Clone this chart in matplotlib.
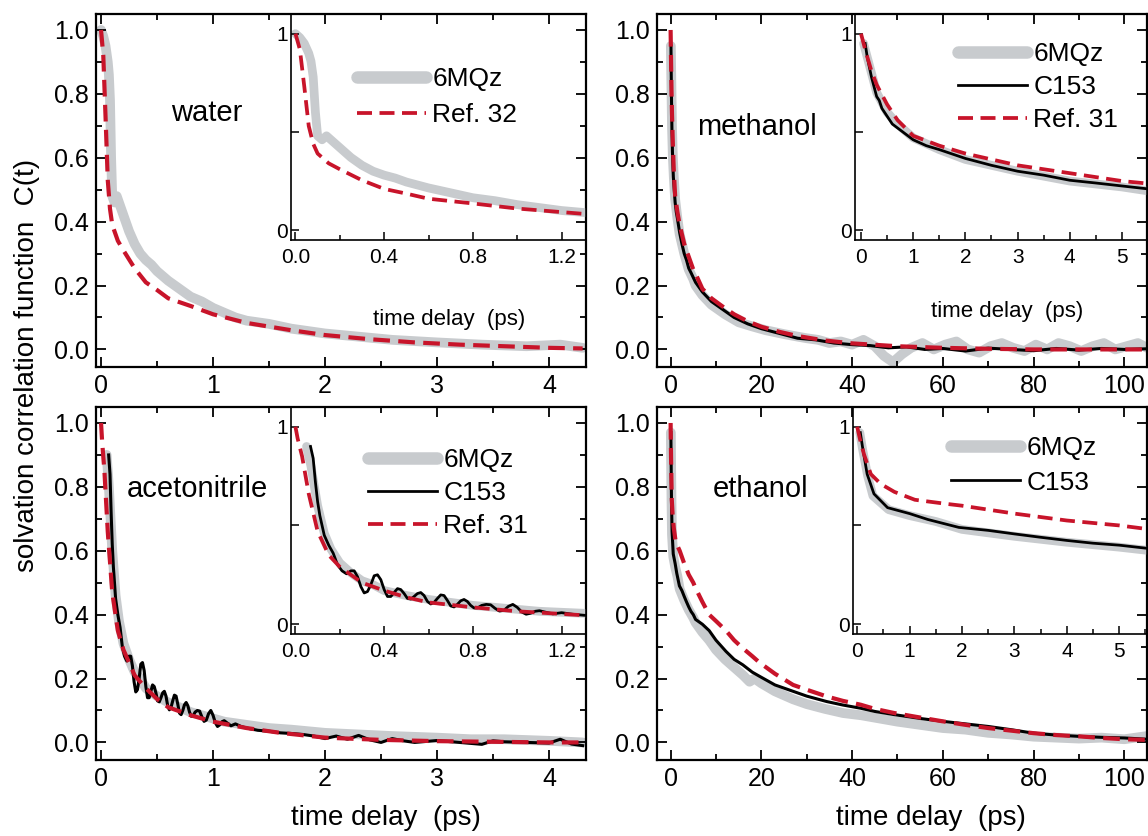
#solvation correlation functions C(t) for four solvents
#main panels plus zoomed insets of the early time range

import numpy as np
import matplotlib.pyplot as plt
from matplotlib.ticker import MultipleLocator, FixedLocator

plt.rcParams['font.family'] = ['Liberation Sans', 'DejaVu Sans']

GRAY = '#c8cbce'
RED = '#c8142a'

#---------------- data ----------------
#water (ps)
water_t_6mqz = [0, 0.02, 0.04, 0.06, 0.07, 0.08, 0.09, 0.1, 0.12, 0.14, 0.17, 0.2, 0.25,
                0.3, 0.35, 0.4, 0.45, 0.5, 0.55, 0.6, 0.7, 0.8, 0.9, 1.0, 1.1, 1.2, 1.3,
                1.5, 1.7, 2.0, 2.3, 2.6, 3.0, 3.4, 3.8, 4.1, 4.3]
water_c_6mqz = [1.0, 0.98, 0.95, 0.9, 0.86, 0.78, 0.6, 0.48, 0.46, 0.48, 0.45, 0.42, 0.37,
                0.33, 0.3, 0.28, 0.265, 0.245, 0.23, 0.215, 0.19, 0.165, 0.15, 0.13, 0.115, 0.1, 0.09,
                0.08, 0.065, 0.05, 0.04, 0.03, 0.022, 0.015, 0.01, 0.015, 0.005]
water_t_ref = [0, 0.02, 0.04, 0.06, 0.08, 0.1, 0.15, 0.2, 0.3, 0.4, 0.5, 0.6, 0.8, 1.0, 1.3,
               1.7, 2.0, 2.4, 2.8, 3.2, 3.6, 4.0, 4.3]
water_c_ref = [1.0, 0.92, 0.73, 0.53, 0.44, 0.39, 0.34, 0.31, 0.254, 0.21, 0.186, 0.16, 0.136,
               0.11, 0.083, 0.06, 0.045, 0.032, 0.022, 0.015, 0.01, 0.005, 0.003]

#methanol (ps)
meoh_t_6mqz = [0.05, 0.1, 0.2, 0.3, 0.5, 0.7, 1.0, 1.5, 2.0, 3.0, 4.0, 5.0, 5.5, 7, 9, 12, 15,
               18, 21, 25, 28, 30, 32.5, 35, 37.5, 40, 42.5, 45, 47, 49, 51, 53, 55.5, 58,
               60.5, 63, 65.5, 68, 70.5, 73, 75.5, 78, 80.5, 83, 85.5, 88, 90.5, 93, 95.5, 98,
               100.5, 103, 105]
meoh_c_6mqz = [0.95, 0.9, 0.8, 0.7, 0.6, 0.54, 0.47, 0.41, 0.36, 0.3, 0.25, 0.22, 0.2, 0.17,
               0.14, 0.11, 0.085, 0.072, 0.06, 0.048, 0.04, 0.035, 0.03, 0.02, 0.025, 0.015,
               0.03, 0.01, -0.02, -0.04, -0.015, 0.005, 0.02, 0.0, 0.015, 0.025, 0.0, -0.01,
               0.01, 0.02, 0.005, -0.005, 0.015, 0.0, 0.02, 0.01, -0.005, 0.01, 0.02, 0.0,
               0.01, 0.02, 0.005]
meoh_t_c153 = [0.08, 0.12, 0.2, 0.3, 0.35, 0.4, 0.5, 0.6, 0.8, 1.0, 1.25, 1.5, 2.0, 2.5, 3.0,
               3.5, 4.0, 4.5, 5.0, 5.5, 7, 9, 11.5, 14, 17, 20, 24, 28, 32, 36, 40, 44, 48, 52,
               56, 60, 65, 70, 75, 80, 85, 90, 95, 100, 105]
meoh_c_c153 = [0.95, 0.88, 0.78, 0.68, 0.66, 0.62, 0.58, 0.54, 0.5, 0.46, 0.43, 0.41, 0.365,
               0.33, 0.3, 0.28, 0.254, 0.24, 0.225, 0.21, 0.18, 0.15, 0.125, 0.1, 0.08, 0.065,
               0.05, 0.035, 0.03, 0.02, 0.015, 0.012, 0.005, 0.008, 0.0, 0.003, -0.005, 0.004,
               0.0, -0.004, 0.003, -0.002, 0.003, 0.0, 0.002]
meoh_t_ref = [0, 0.05, 0.1, 0.2, 0.3, 0.5, 0.7, 1.0, 1.5, 2.0, 2.5, 3.0, 3.5, 4.0, 4.5, 5.0,
              5.5, 7, 9, 11.5, 14, 17, 20, 24, 28, 34, 40, 50, 60, 70, 80, 90, 100, 105]
meoh_c_ref = [1.0, 0.95, 0.9, 0.81, 0.74, 0.64, 0.56, 0.48, 0.43, 0.39, 0.36, 0.33, 0.31, 0.29,
              0.27, 0.25, 0.237, 0.19, 0.16, 0.134, 0.11, 0.088, 0.071, 0.055, 0.042, 0.028,
              0.019, 0.01, 0.005, 0.002, 0.0, 0.0, 0.0, 0.0]

#acetonitrile (ps)
acn_t_6mqz = [0.05, 0.07, 0.1, 0.13, 0.16, 0.2, 0.25, 0.3, 0.35, 0.4, 0.5, 0.6, 0.7, 0.8, 0.9,
              1.0, 1.1, 1.2, 1.3, 1.5, 1.7, 2.0, 2.3, 2.6, 3.0, 3.3, 3.6, 4.0, 4.3]
acn_c_6mqz = [0.9, 0.8, 0.6, 0.46, 0.38, 0.31, 0.26, 0.22, 0.2, 0.17, 0.145, 0.125, 0.11, 0.095,
              0.085, 0.075, 0.065, 0.06, 0.055, 0.045, 0.04, 0.03, 0.025, 0.02, 0.015, 0.01,
              0.01, 0.005, 0.0]
acn_t_c153 = [0.068, 0.08, 0.09, 0.10, 0.11, 0.13, 0.15, 0.17, 0.19, 0.21, 0.23, 0.25, 0.265,
              0.28, 0.295, 0.31, 0.325, 0.34, 0.355, 0.37, 0.385, 0.40, 0.415, 0.43, 0.445,
              0.46, 0.475, 0.49, 0.505, 0.52, 0.535, 0.55, 0.565, 0.58, 0.595, 0.61, 0.625,
              0.64, 0.655, 0.67, 0.685, 0.7, 0.715, 0.73, 0.745, 0.76, 0.775, 0.79, 0.805,
              0.82, 0.84, 0.86, 0.88, 0.9, 0.92, 0.94, 0.96, 0.98, 1.0, 1.02, 1.04, 1.06, 1.08,
              1.1, 1.13, 1.16, 1.2, 1.25, 1.3, 1.4, 1.5, 1.6, 1.7, 1.8, 1.9, 2.0, 2.1, 2.2,
              2.3, 2.4, 2.5, 2.6, 2.7, 2.8, 3.0, 3.2, 3.4, 3.5, 3.6, 3.8, 4.0, 4.1, 4.2, 4.3]
acn_c_c153 = [0.9, 0.84, 0.72, 0.62, 0.55, 0.45, 0.4, 0.36, 0.3, 0.27, 0.255, 0.27, 0.27,
              0.24, 0.19, 0.158, 0.165, 0.2, 0.245, 0.25, 0.225, 0.175, 0.14, 0.14, 0.16,
              0.18, 0.175, 0.155, 0.13, 0.127, 0.14, 0.155, 0.16, 0.145, 0.115, 0.102, 0.11,
              0.13, 0.148, 0.145, 0.12, 0.092, 0.087, 0.1, 0.118, 0.125, 0.115, 0.095, 0.082,
              0.082, 0.095, 0.1, 0.098, 0.08, 0.066, 0.07, 0.09, 0.1, 0.085, 0.062, 0.05, 0.055,
              0.065, 0.068, 0.06, 0.052, 0.058, 0.05, 0.045, 0.038, 0.035, 0.03, 0.028, 0.025,
              0.02, 0.012, 0.02, 0.01, 0.022, 0.008, 0.0, 0.012, 0.005, 0.0, 0.006, 0.0,
              -0.006, 0.005, 0.002, 0.0, -0.002, 0.01, -0.005, -0.01]
acn_t_ref = [0, 0.01, 0.03, 0.06, 0.1, 0.15, 0.2, 0.3, 0.4, 0.5, 0.6, 0.8, 1.0, 1.3, 1.6, 2.0,
             2.5, 3.0, 3.5, 4.0, 4.3]
acn_c_ref = [1.0, 0.94, 0.85, 0.66, 0.47, 0.35, 0.29, 0.21, 0.17, 0.136, 0.11, 0.085, 0.065,
             0.045, 0.03, 0.015, 0.008, 0.004, 0.002, 0.0, 0.0]

#ethanol (ps)
etoh_t_6mqz = [0.05, 0.1, 0.2, 0.3, 0.6, 1.0, 1.5, 2.0, 3.0, 4.0, 5.0, 5.5, 7, 8.5, 10, 12, 14,
               16, 17.4, 18.5, 20, 23, 27, 30, 34, 38, 42, 46, 50, 55, 60, 65, 70, 75, 80, 85,
               90, 95, 100, 105]
etoh_c_6mqz = [0.97, 0.89, 0.75, 0.65, 0.58, 0.55, 0.52, 0.48, 0.445, 0.415, 0.39, 0.375, 0.345,
               0.32, 0.29, 0.26, 0.235, 0.21, 0.19, 0.2, 0.185, 0.16, 0.135, 0.12, 0.105, 0.092,
               0.085, 0.075, 0.065, 0.055, 0.045, 0.04, 0.03, 0.025, 0.018, 0.015, 0.012, 0.015,
               0.01, 0.02]
etoh_t_c153 = [0.06, 0.1, 0.19, 0.32, 0.58, 1.0, 1.35, 1.94, 2.5, 3.0, 3.5, 4.0, 4.5, 5.0, 5.5,
               7, 8.5, 10, 12.2, 14, 15.9, 18, 19.6, 23, 27, 30, 34.4, 38, 41.9, 45, 49.3, 55,
               60, 65, 70, 75, 80, 85, 90, 95, 100, 105]
etoh_c_c153 = [0.97, 0.9, 0.76, 0.66, 0.59, 0.56, 0.53, 0.49, 0.475, 0.457, 0.44, 0.424, 0.41,
               0.4, 0.385, 0.37, 0.35, 0.32, 0.285, 0.26, 0.243, 0.22, 0.207, 0.18, 0.16, 0.145,
               0.128, 0.117, 0.107, 0.097, 0.087, 0.075, 0.066, 0.058, 0.05, 0.04, 0.029, 0.023,
               0.019, 0.016, 0.014, 0.01]
etoh_t_ref = [0, 0.05, 0.13, 0.26, 0.45, 0.71, 1.1, 1.68, 2.0, 3.0, 4.0, 5.0, 5.5, 7, 8.5, 10,
              12.2, 14, 15.9, 18, 19.6, 23, 27, 30, 34.4, 38, 41.9, 45, 49.3, 55, 60, 65, 70,
              75, 80, 85, 90, 95, 100, 105]
etoh_c_ref = [1.0, 0.94, 0.86, 0.76, 0.71, 0.67, 0.63, 0.61, 0.6, 0.56, 0.525, 0.5, 0.483, 0.44,
              0.4, 0.38, 0.35, 0.32, 0.295, 0.27, 0.25, 0.215, 0.18, 0.165, 0.144, 0.13, 0.118,
              0.105, 0.092, 0.078, 0.066, 0.055, 0.045, 0.037, 0.029, 0.023, 0.019, 0.014, 0.01,
              0.008]

#---------------- layout (pixels of the 1148x836 figure) ----------------
W, H = 1148, 836


def box(x0, y0, x1, y1):
    return [x0 / W, 1 - y1 / H, (x1 - x0) / W, (y1 - y0) / H]


def fxy(x, y):
    return (x / W, 1 - y / H)


fig = plt.figure(figsize=(W / 100, H / 100), dpi=100)


def style_main(ax, xlim, xmaj, xmin):
    ax.set_xlim(xlim)
    ax.set_ylim(-0.055, 1.05)
    ax.xaxis.set_major_locator(MultipleLocator(xmaj))
    ax.xaxis.set_minor_locator(MultipleLocator(xmin))
    ax.yaxis.set_major_locator(MultipleLocator(0.2))
    ax.yaxis.set_minor_locator(MultipleLocator(0.1))
    ax.yaxis.set_major_formatter('{x:.1f}')
    ax.tick_params(which='both', direction='in', top=True, right=True, width=1.3)
    ax.tick_params(which='major', length=7, labelsize=18, pad=5)
    ax.tick_params(which='minor', length=4)
    for s in ax.spines.values():
        s.set_linewidth(1.6)


def style_inset(ax, xlim, xmin, labels):
    ax.set_xlim(xlim)
    ax.set_ylim(-0.05, 1.1)
    ax.patch.set_visible(False)
    ax.xaxis.set_major_locator(FixedLocator(labels[0]))
    ax.set_xticklabels(labels[1])
    ax.xaxis.set_minor_locator(MultipleLocator(xmin))
    ax.set_yticks([0, 0.5, 1])
    ax.set_yticklabels(['0', '', '1'])
    ax.tick_params(which='both', direction='in', width=1.1)
    ax.tick_params(which='major', length=6, labelsize=15, pad=6)
    ax.tick_params(axis='y', pad=2)
    ax.tick_params(which='minor', length=3.5)
    for s in ax.spines.values():
        s.set_linewidth(1.2)


def draw(ax, curves, lw_scale=1.0):
    lines = []
    for t, c, kind, lab in curves:
        if kind == 'gray':
            l, = ax.plot(t, c, color=GRAY, lw=7 * lw_scale, solid_capstyle='round',
                         solid_joinstyle='round', label=lab, zorder=1)
        elif kind == 'black':
            l, = ax.plot(t, c, color='black', lw=2.2 * lw_scale, label=lab, zorder=2)
        else:
            l, = ax.plot(t, c, color=RED, lw=3 * lw_scale, dashes=(4, 2), label=lab, zorder=3)
        lines.append(l)
    return lines


def legend(ax, handles, xy, spacing, fs=19):
    leg = ax.legend(handles=handles, loc='upper left', bbox_to_anchor=fxy(*xy),
                    bbox_transform=fig.transFigure, frameon=False, fontsize=fs,
                    handlelength=2.6, handletextpad=0.25, labelspacing=spacing,
                    borderpad=0, borderaxespad=0)
    for l in leg.get_lines():
        if l.get_color() == GRAY:
            l.set_linewidth(9)
    return leg


panels = [
    dict(main=(96, 14, 586, 367), ins=(291, 14, 586, 240), xlim=(-0.045, 4.33), xmaj=1, xmin=0.5,
         ixlim=(-0.02, 1.31), ixmin=0.2, ilab=([0, 0.4, 0.8, 1.2], ['0.0', '0.4', '0.8', '1.2']),
         name='water', name_xy=(207, 113), leg_xy=(357, 67), spacing=0.45, ins_xlabel=(449, 320),
         curves=[(water_t_6mqz, water_c_6mqz, 'gray', '6MQz'),
                 (water_t_ref, water_c_ref, 'red', 'Ref. 32')]),
    dict(main=(657, 14, 1147, 367), ins=(855, 14, 1147, 240), xlim=(-3, 105), xmaj=20, xmin=10,
         ixlim=(-0.115, 5.48), ixmin=0.5, ilab=([0, 1, 2, 3, 4, 5], ['0', '1', '2', '3', '4', '5']),
         name='methanol', name_xy=(757, 127), leg_xy=(958, 42), spacing=0.35, ins_xlabel=(1007, 312),
         curves=[(meoh_t_6mqz, meoh_c_6mqz, 'gray', '6MQz'),
                 (meoh_t_c153, meoh_c_c153, 'black', 'C153'),
                 (meoh_t_ref, meoh_c_ref, 'red', 'Ref. 31')]),
    dict(main=(96, 407, 586, 760), ins=(291, 407, 586, 634), xlim=(-0.045, 4.33), xmaj=1, xmin=0.5,
         ixlim=(-0.02, 1.31), ixmin=0.2, ilab=([0, 0.4, 0.8, 1.2], ['0.0', '0.4', '0.8', '1.2']),
         name='acetonitrile', name_xy=(197, 489), leg_xy=(368, 448), spacing=0.35, ins_xlabel=None,
         curves=[(acn_t_6mqz, acn_c_6mqz, 'gray', '6MQz'),
                 (acn_t_c153, acn_c_c153, 'black', 'C153'),
                 (acn_t_ref, acn_c_ref, 'red', 'Ref. 31')]),
    dict(main=(657, 407, 1147, 760), ins=(853, 407, 1147, 634), xlim=(-3, 105), xmaj=20, xmin=10,
         ixlim=(-0.08, 5.53), ixmin=0.5, ilab=([0, 1, 2, 3, 4, 5], ['0', '1', '2', '3', '4', '5']),
         name='ethanol', name_xy=(761, 489), leg_xy=(951, 436), spacing=0.4, ins_xlabel=None,
         curves=[(etoh_t_6mqz, etoh_c_6mqz, 'gray', '6MQz'),
                 (etoh_t_c153, etoh_c_c153, 'black', 'C153'),
                 (etoh_t_ref, etoh_c_ref, 'red', 'Ref. 31')]),
]

for p in panels:
    ax = fig.add_axes(box(*p['main']))
    style_main(ax, p['xlim'], p['xmaj'], p['xmin'])
    draw(ax, p['curves'])

    ins = fig.add_axes(box(*p['ins']))
    style_inset(ins, p['ixlim'], p['ixmin'], p['ilab'])
    hl = draw(ins, p['curves'], lw_scale=0.9)
    # the ethanol inset legend shows only the two measurements
    if p['name'] == 'ethanol':
        hl = hl[:2]
    legend(ins, hl, p['leg_xy'], p['spacing'])

    fig.text(*fxy(*p['name_xy']), p['name'], fontsize=21, ha='center', va='center')
    if p['ins_xlabel'] is not None:
        fig.text(*fxy(*p['ins_xlabel']), 'time delay  (ps)', fontsize=16,
                 ha='center', va='center')

#axis titles
fig.text(*fxy(27, 365), 'solvation correlation function  C(t)', fontsize=20,
         rotation=90, ha='center', va='center')
fig.text(*fxy(386, 818), 'time delay  (ps)', fontsize=20, ha='center', va='center')
fig.text(*fxy(931, 818), 'time delay  (ps)', fontsize=20, ha='center', va='center')

fig.savefig('out.png', dpi=100)
